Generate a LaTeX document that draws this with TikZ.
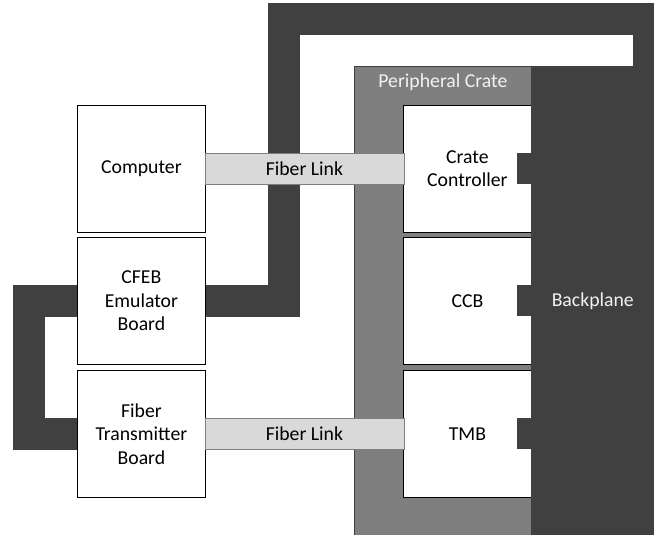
\documentclass[tikz,border=0pt]{standalone}
\usepackage{fontspec}
\setmainfont{Carlito}
\usetikzlibrary{calc}
\definecolor{darkband}{HTML}{404040}
\definecolor{crategray}{HTML}{7F7F7F}
\definecolor{fibergray}{HTML}{D9D9D9}
\begin{document}
\begin{tikzpicture}[x=0.75pt,y=-0.75pt,
  txt/.style={font=\fontsize{14.8}{17.5}\selectfont, align=center},
  board/.style={txt, draw=black, line width=0.6pt, fill=white, inner sep=0pt,
    minimum width=96pt, minimum height=95.25pt, anchor=north west},
  fiber/.style={txt, draw=crategray, line width=0.6pt, fill=fibergray, inner sep=0pt,
    minimum width=149.25pt, minimum height=23.25pt},
  cable/.style={draw=darkband, line width=24pt, line cap=butt, line join=miter},
  tab/.style={fill=darkband}]
\useasboundingbox (0,0) rectangle (654,535);
\fill[white] (0,0) rectangle (654,535);

% crate and backplane
\node[draw=darkband, line width=0.6pt, fill=crategray, inner sep=0pt, anchor=north west,
  minimum width=132.75pt, minimum height=351.75pt] (crate) at (354,66) {};
\node[txt, text=white!95!black] (cratelbl) at ($(crate.north)+(0,16)$) {Peripheral Crate};

% boards on the left
\node[board] (comp) at (77,105) {Computer};
\node[board] (cfeb) at (77,237) {CFEB\\Emulator\\Board};
\node[board] (ftb) at (77,370) {Fiber\\Transmitter\\Board};

% boards in the crate
\node[board] (cc) at (403,105) {Crate\\Controller};
\node[board] (ccb) at (403,237) {CCB};
\node[board] (tmb) at (403,370) {TMB};

% backplane
\node[fill=darkband, inner sep=0pt, anchor=north west, minimum width=92.25pt,
  minimum height=351.75pt, txt, text=white!95!black] (bp) at (531,66) {Backplane};

% cable from the emulator board round to the backplane
\coordinate (topleft) at (284,19);
\coordinate (topright) at (649,19);
\coordinate (bpentry) at (649,80);
\draw[cable] (cfeb.east) -| (topleft) -- (topright) -- (bpentry);

% cable between emulator and transmitter boards
\draw[cable] (cfeb.west) -- ++(-48,0) |- (ftb.west);

% backplane connectors on the crate boards
\foreach \b in {cc,ccb,tmb}{
  \fill[tab] ($(\b.east)+(-15,-15.5)$) rectangle ($(\b.east)+(0,15.5)$);
}

% fiber links
\node[fiber] (fl1) at ($(comp.east)!0.5!(cc.west)$) {Fiber Link};
\node[fiber] (fl2) at ($(ftb.east)!0.5!(tmb.west)$) {Fiber Link};
\end{tikzpicture}
\end{document}
